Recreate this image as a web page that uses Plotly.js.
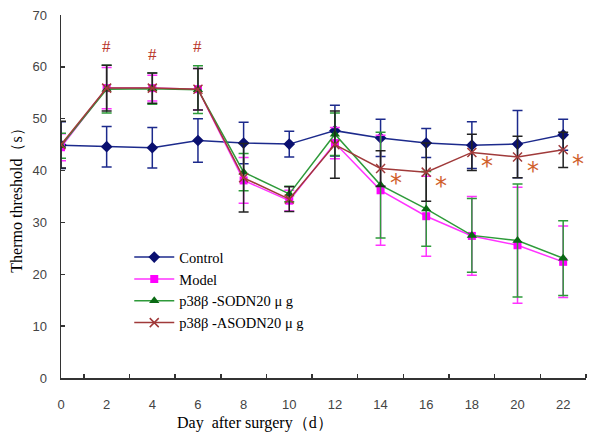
<!DOCTYPE html>
<html>
<head>
<meta charset="utf-8">
<script src="https://cdn.plot.ly/plotly-3.0.1.min.js"></script>
<style>html,body{margin:0;padding:0;background:#fff;}#chart{width:600px;height:441px;}</style>
</head>
<body>
<div id="chart"></div>
<script>
var days = [0, 2, 4, 6, 8, 10, 12, 14, 16, 18, 20, 22];
var tickLabels = ["0", "2", "4", "6", "8", "10", "12", "14", "16", "18", "20", "22"];
var control = [44.9, 44.6, 44.4, 45.8, 45.3, 45.1, 47.7, 46.3, 45.3, 44.9, 45.1, 46.9];
var controlErr = [4.5, 3.9, 3.9, 4.2, 4.0, 2.5, 4.9, 3.6, 2.8, 4.5, 6.5, 3.0];
var model = [44.5, 55.9, 55.9, 55.7, 38.1, 34.2, 45.3, 36.2, 31.2, 27.4, 25.6, 22.4];
var modelErr = [2.6, 4.0, 2.5, 4.0, 4.4, 2.0, 3.0, 10.6, 7.7, 7.6, 11.2, 6.9];
var sodn = [44.8, 55.7, 55.8, 55.6, 39.7, 35.5, 47.0, 37.2, 32.6, 27.5, 26.5, 23.1];
var sodnErr = [2.4, 4.6, 3.0, 4.6, 3.6, 1.5, 4.1, 10.2, 7.2, 7.1, 10.9, 7.2];
var asodn = [45.0, 55.9, 55.9, 55.7, 38.6, 34.5, 45.0, 40.4, 39.7, 43.5, 42.6, 44.0];
var asodnErr = [4.5, 4.4, 2.9, 4.0, 6.6, 2.4, 6.5, 3.4, 5.6, 3.5, 4.0, 3.4];
var hashDays = [2, 4, 6];
var starDays = [14, 16, 18, 20, 22];
var minorTicks = [1, 3, 5, 7, 9, 11, 13, 15, 17, 19, 21, 23];

var serif = "Liberation Serif, DejaVu Serif, serif";

function errObj(arr, color) {
  return {type: 'data', array: arr, visible: true, color: color, thickness: 1.5, width: 5};
}

var traces = [
  {x: days, y: control, name: "Control", mode: 'lines+markers', type: 'scatter',
   line: {color: '#1c2a8c', width: 1.5},
   marker: {symbol: 'diamond', size: 9, color: '#0a1070'},
   error_y: errObj(controlErr, '#1c2a8c')},
  {x: days, y: model, name: "Model", mode: 'lines+markers', type: 'scatter',
   line: {color: '#ff33ff', width: 1.5},
   marker: {symbol: 'square', size: 8, color: '#ff00ff'},
   error_y: errObj(modelErr, '#ff33ff')},
  {x: days, y: sodn, name: "p38\u03b2 -SODN20 \u03bc g", mode: 'lines+markers', type: 'scatter',
   line: {color: '#2e9a3a', width: 1.5},
   marker: {symbol: 'triangle-up', size: 9, color: '#0a6a14'},
   error_y: errObj(sodnErr, '#2e9a3a')},
  {x: days, y: asodn, name: "p38\u03b2 -ASODN20 \u03bc g", mode: 'lines+markers', type: 'scatter',
   line: {color: '#a03a3a', width: 1.5},
   marker: {symbol: 'x-thin-open', size: 9, color: '#a03a3a', line: {width: 1.5, color: '#a03a3a'}},
   error_y: errObj(asodnErr, '#222222')}
];

var annotations = [];
hashDays.forEach(function (d) {
  var i = days.indexOf(d);
  var top = Math.max(control[i] + controlErr[i], model[i] + modelErr[i], sodn[i] + sodnErr[i], asodn[i] + asodnErr[i]);
  annotations.push({x: d, y: top, xref: 'x', yref: 'y', text: '#', showarrow: false,
    yshift: 19, font: {family: serif, size: 17, color: '#b8342a'}});
});
starDays.forEach(function (d) {
  var i = days.indexOf(d);
  annotations.push({x: d, y: asodn[i], xref: 'x', yref: 'y', text: '*', showarrow: false,
    xshift: 15, yshift: -14, font: {family: 'DejaVu Sans, sans-serif', size: 24, color: '#d0602a'}});
});
annotations.push({x: 0.37, y: -0.124, xref: 'paper', yref: 'paper', xanchor: 'center', yanchor: 'middle',
  text: 'Day  after surgery\uff08d\uff09',
  showarrow: false, font: {family: serif, size: 16, color: '#000'}});

var layout = {
  width: 600, height: 441,
  margin: {l: 61, r: 14, t: 15, b: 63},
  paper_bgcolor: '#fff', plot_bgcolor: '#fff',
  showlegend: true,
  legend: {x: 0.13, y: 0.377, xanchor: 'left', yanchor: 'top', bgcolor: 'rgba(0,0,0,0)',
    font: {family: serif, size: 14.5, color: '#000'}, itemwidth: 40, tracegroupgap: 0},
  xaxis: {range: [0, 23], showgrid: false, zeroline: false, showline: true, linecolor: '#333', linewidth: 1.5,
    tickmode: 'array', tickvals: days, ticktext: tickLabels, ticks: '',
    ticklabelstandoff: 14,
    tickfont: {family: 'Liberation Sans, Arial, sans-serif', size: 13, color: '#444'},
    minor: {tickmode: 'array', tickvals: minorTicks, ticks: 'inside', ticklen: 4, tickcolor: '#333', tickwidth: 1.5},
    fixedrange: true},
  yaxis: {range: [0, 70], dtick: 10, showgrid: false, zeroline: false, showline: true, linecolor: '#333', linewidth: 1.5,
    ticks: 'inside', ticklen: 4, tickcolor: '#333', tickwidth: 1.5,
    ticklabelstandoff: 10,
    tickfont: {family: 'Liberation Sans, Arial, sans-serif', size: 13, color: '#444'},
    title: {text: 'Thermo threshold\uff08s\uff09', standoff: 6, font: {family: serif, size: 16, color: '#000'}},
    fixedrange: true},
  annotations: annotations
};

Plotly.newPlot('chart', traces, layout, {displayModeBar: false, staticPlot: true});
</script>
</body>
</html>
